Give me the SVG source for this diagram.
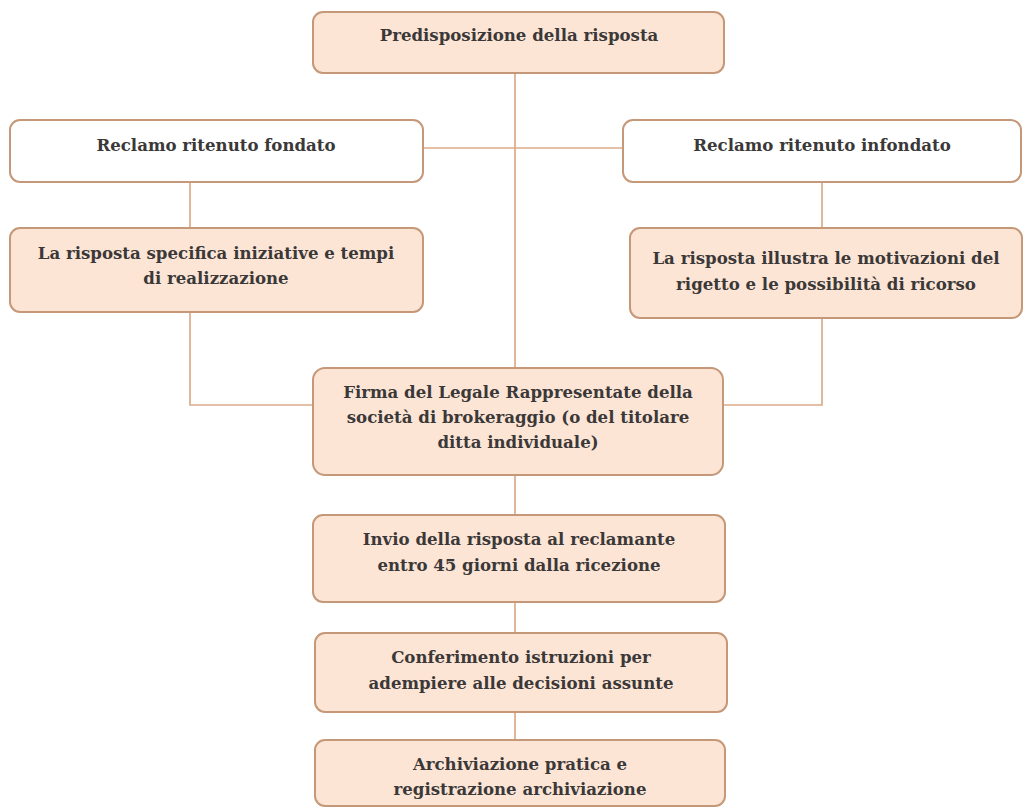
<svg xmlns="http://www.w3.org/2000/svg" width="1027" height="810" viewBox="0 0 1027 810">
<style>
.box{fill:#fde5d6;stroke:#c49878;stroke-width:2}
.wbox{fill:#ffffff;stroke:#c49878;stroke-width:2}
.lbl{font-family:"DejaVu Serif","Liberation Serif",serif;font-weight:bold;font-size:16.6px;fill:#3b3838;text-anchor:middle}
.con{fill:none;stroke:#dcab88;stroke-width:1.7}
</style>
<rect width="1027" height="810" fill="#ffffff"/>
<g id="connectors">
<line class="con" x1="515" y1="73" x2="515" y2="368"/>
<line class="con" x1="423" y1="148" x2="623" y2="148"/>
<line class="con" x1="190" y1="182" x2="190" y2="228"/>
<line class="con" x1="822" y1="182" x2="822" y2="228"/>
<polyline class="con" points="190,312 190,405 313,405"/>
<polyline class="con" points="822,318 822,405 723,405"/>
<line class="con" x1="515" y1="475" x2="515" y2="515"/>
<line class="con" x1="515" y1="602" x2="515" y2="633"/>
<line class="con" x1="515" y1="712" x2="515" y2="740"/>
</g>
<g id="n1">
<rect class="box" x="313" y="12" width="411" height="61" rx="10"/>
<text class="lbl" x="519" y="41">Predisposizione della risposta</text>
</g>
<g id="n2">
<rect class="wbox" x="10" y="120" width="413" height="62" rx="10"/>
<text class="lbl" x="216" y="151">Reclamo ritenuto fondato</text>
</g>
<g id="n3">
<rect class="wbox" x="623" y="120" width="398" height="62" rx="10"/>
<text class="lbl" x="822" y="151">Reclamo ritenuto infondato</text>
</g>
<g id="n4">
<rect class="box" x="10" y="228" width="413" height="84" rx="10"/>
<text class="lbl" x="216" y="259">La risposta specifica iniziative e tempi</text>
<text class="lbl" x="216" y="284">di realizzazione</text>
</g>
<g id="n5">
<rect class="box" x="630" y="228" width="392" height="90" rx="10"/>
<text class="lbl" x="826" y="264">La risposta illustra le motivazioni del</text>
<text class="lbl" x="826" y="290">rigetto e le possibilità di ricorso</text>
</g>
<g id="n6">
<rect class="box" x="313" y="368" width="410" height="107" rx="12"/>
<text class="lbl" x="518" y="398">Firma del Legale Rappresentate della</text>
<text class="lbl" x="518" y="423">società di brokeraggio (o del titolare</text>
<text class="lbl" x="518" y="448">ditta individuale)</text>
</g>
<g id="n7">
<rect class="box" x="313" y="515" width="412" height="87" rx="10"/>
<text class="lbl" x="519" y="545">Invio della risposta al reclamante</text>
<text class="lbl" x="519" y="571">entro 45 giorni dalla ricezione</text>
</g>
<g id="n8">
<rect class="box" x="315" y="633" width="412" height="79" rx="10"/>
<text class="lbl" x="521" y="663">Conferimento istruzioni per</text>
<text class="lbl" x="521" y="689">adempiere alle decisioni assunte</text>
</g>
<g id="n9">
<rect class="box" x="315" y="740" width="410" height="66" rx="10"/>
<text class="lbl" x="520" y="770">Archiviazione pratica e</text>
<text class="lbl" x="520" y="795">registrazione archiviazione</text>
</g>
</svg>
